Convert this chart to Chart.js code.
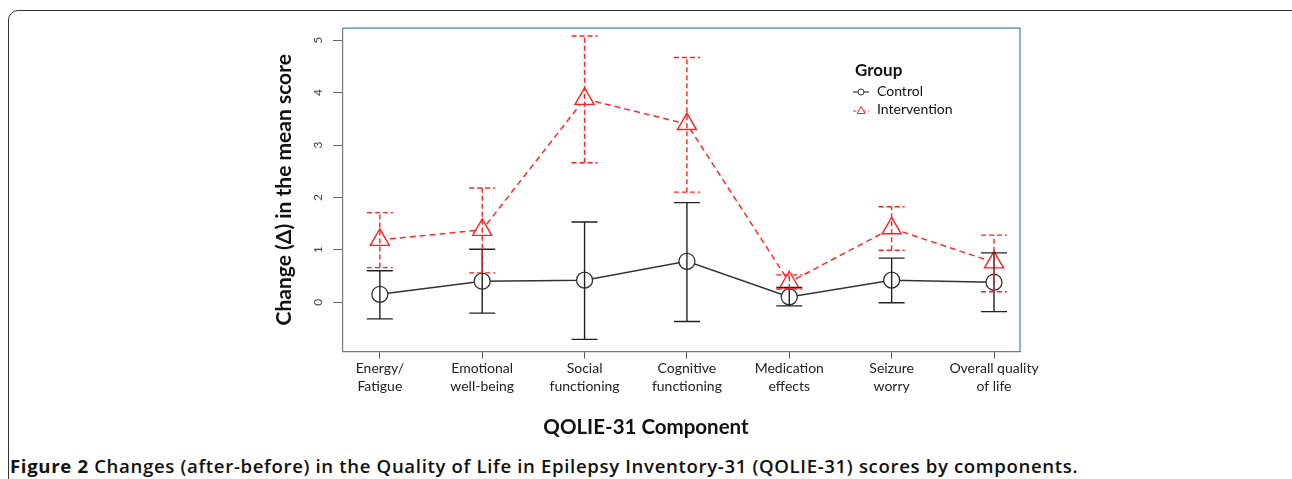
<!DOCTYPE html>
<html>
<head>
<meta charset="utf-8">
<script src="https://cdn.jsdelivr.net/npm/chart.js@4.4.0/dist/chart.umd.min.js"></script>
<style>
  body { margin: 0; background: #fff; width: 1292px; height: 479px; overflow: hidden; position: relative; font-family: Lato, "Open Sans", sans-serif; }
  #frame { position: absolute; left: 8px; top: 10px; width: 1300px; height: 490px; border: 1.5px solid #333; border-radius: 10px; }
  #wrap { position: absolute; left: 250px; top: 10px; width: 800px; height: 440px; }
  #legend { position: absolute; left: 853px; top: 58px; color: #111; }
  #legend .ttl { font-weight: bold; font-size: 17px; margin-left: 2px; height: 24px; line-height: 24px; }
  #legend .row { font-size: 14px; height: 18px; line-height: 18px; }
  #legend svg { vertical-align: middle; margin-right: 8px; }
  #caption { position: absolute; left: 10px; top: 453px; font-family: "Open Sans", sans-serif; font-size: 18.6px; letter-spacing: 0.65px; color: #111; white-space: nowrap; font-weight: 600; }
  #caption b { font-weight: bold; }
</style>
</head>
<body>
<div id="frame"></div>
<div id="wrap"><canvas id="chart"></canvas></div>
<div id="legend">
  <div class="ttl">Group</div>
  <div class="row"><svg width="16" height="10"><line x1="0" y1="5" x2="16" y2="5" stroke="#333" stroke-width="1.2"/><circle cx="8" cy="5" r="3" fill="#fff" stroke="#333" stroke-width="1"/></svg>Control</div>
  <div class="row"><svg width="16" height="10"><line x1="0" y1="6" x2="16" y2="6" stroke="#ff2020" stroke-width="1.2" stroke-dasharray="3,2"/><polygon points="8,1.5 12,8.5 4,8.5" fill="#fff" stroke="#ff2020" stroke-width="1"/></svg>Intervention</div>
</div>
<div id="caption"><b>Figure 2</b> Changes (after-before) in the Quality of Life in Epilepsy Inventory-31 (QOLIE-31) scores by components.</div>
<script>
// QOLIE-31 components (x axis)
var categories = [
  ["Energy/", "Fatigue"],
  ["Emotional", "well-being"],
  ["Social", "functioning"],
  ["Cognitive", "functioning"],
  ["Medication", "effects"],
  ["Seizure", "worry"],
  ["Overall quality", "of life"]
];
var yTicks = [0, 1, 2, 3, 4, 5];

// mean change and error bar ends
var controlMean = [0.15, 0.40, 0.42, 0.78, 0.10, 0.42, 0.38];
var controlLow = [-0.32, -0.21, -0.71, -0.37, -0.07, -0.01, -0.18];
var controlHigh = [0.60, 1.01, 1.53, 1.90, 0.28, 0.84, 0.94];

var interventionMean = [1.19, 1.38, 3.88, 3.40, 0.38, 1.41, 0.76];
var interventionLow = [0.66, 0.56, 2.66, 2.10, 0.25, 0.99, 0.20];
var interventionHigh = [1.71, 2.18, 5.08, 4.67, 0.52, 1.82, 1.28];

function toPoints(arr) {
  return arr.map(function (v, i) { return { x: i, y: v }; });
}

// error bars with caps, drawn on top of the lines
var errorBars = {
  id: 'errorBars',
  afterDatasetsDraw: function (chart) {
    var ctx = chart.ctx, xs = chart.scales.x, ys = chart.scales.y;
    var groups = [
      { low: controlLow, high: controlHigh, color: '#222', dash: [] },
      { low: interventionLow, high: interventionHigh, color: '#ff2020', dash: [5, 3] }
    ];
    ctx.save();
    groups.forEach(function (g) {
      ctx.strokeStyle = g.color;
      ctx.lineWidth = 1.4;
      ctx.setLineDash(g.dash);
      for (var i = 0; i < g.low.length; i++) {
        var x = xs.getPixelForValue(i);
        var y1 = ys.getPixelForValue(g.low[i]);
        var y2 = ys.getPixelForValue(g.high[i]);
        ctx.beginPath();
        ctx.moveTo(x, y1); ctx.lineTo(x, y2);
        ctx.moveTo(x - 13, y1); ctx.lineTo(x + 13, y1);
        ctx.moveTo(x - 13, y2); ctx.lineTo(x + 13, y2);
        ctx.stroke();
      }
    });
    ctx.restore();
  }
};

// blue frame line on top and right of the plot
var frameLines = {
  id: 'frameLines',
  afterDraw: function (chart) {
    var a = chart.chartArea, ctx = chart.ctx;
    ctx.save();
    ctx.strokeStyle = '#4a7ebb';
    ctx.lineWidth = 1.2;
    ctx.beginPath();
    ctx.moveTo(a.left, a.top); ctx.lineTo(a.right, a.top); ctx.lineTo(a.right, a.bottom);
    ctx.stroke();
    ctx.restore();
  }
};

var ctx = document.getElementById('chart').getContext('2d');
var chart = new Chart(ctx, {
  type: 'line',
  data: {
    datasets: [{
      label: 'Control',
      data: toPoints(controlMean),
      borderColor: '#333',
      borderWidth: 1.5,
      pointStyle: 'circle',
      pointRadius: 8,
      pointBorderWidth: 1.3,
      pointBorderColor: '#333',
      pointBackgroundColor: '#fff',
      tension: 0
    }, {
      label: 'Intervention',
      data: toPoints(interventionMean),
      borderColor: '#ff2a2a',
      borderWidth: 1.5,
      borderDash: [6, 4],
      pointStyle: 'triangle',
      pointRadius: 11,
      pointBorderWidth: 1.4,
      pointBorderColor: '#ff2020',
      pointBackgroundColor: '#fff',
      tension: 0
    }]
  },
  options: {
    responsive: true,
    maintainAspectRatio: false,
    animation: false,
    layout: { padding: { top: 17, right: 30, left: 22, bottom: 10 } },
    plugins: {
      legend: { display: false },
      tooltip: { enabled: false },
      title: {
        display: true,
        position: 'bottom',
        text: 'QOLIE-31 Component',
        color: '#111',
        padding: 0,
        font: { family: 'Lato', size: 20.5, weight: 'bold', lineHeight: 1.2 }
      }
    },
    scales: {
      x: {
        type: 'linear',
        min: -0.36,
        max: 6.254,
        afterBuildTicks: function (scale) {
          scale.ticks = categories.map(function (c, i) { return { value: i }; });
        },
        afterFit: function (scale) { scale.height = 64; },
        grid: { drawOnChartArea: false, drawTicks: true, tickLength: 7, color: '#555' },
        border: { display: true, color: '#777', width: 1.2 },
        ticks: {
          maxRotation: 0,
          autoSkip: false,
          padding: 1,
          color: '#222',
          font: { family: 'Lato', size: 14, lineHeight: 1.3 },
          callback: function (value) { return categories[value]; }
        }
      },
      y: {
        min: -0.94,
        max: 5.23,
        afterBuildTicks: function (scale) {
          scale.ticks = yTicks.map(function (v) { return { value: v }; });
        },
        afterFit: function (scale) { scale.width = 71; },
        grid: { drawOnChartArea: false, drawTicks: true, tickLength: 10, color: '#666' },
        border: { display: true, color: '#777', width: 1.2 },
        ticks: {
          minRotation: 90,
          maxRotation: 90,
          crossAlign: 'center',
          padding: 11,
          color: '#444',
          font: { family: 'Lato', size: 12 }
        },
        title: {
          display: true,
          text: 'Change (Δ) in the mean score',
          color: '#111',
          padding: 0,
          font: { family: 'Lato', size: 21, weight: 'bold', lineHeight: 1.2 }
        }
      }
    }
  },
  plugins: [errorBars, frameLines]
});
</script>
</body>
</html>
